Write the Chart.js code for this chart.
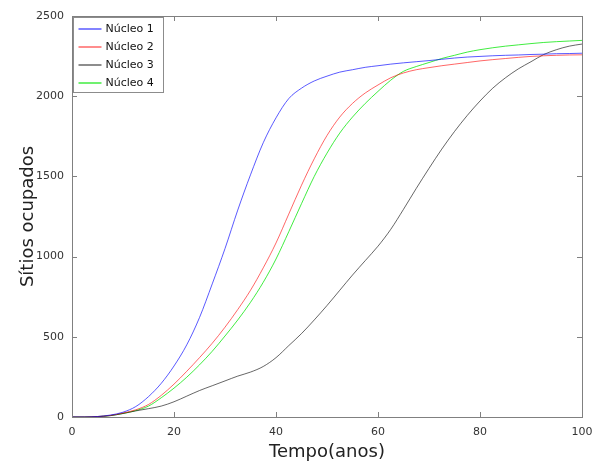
<!DOCTYPE html>
<html>
<head>
<meta charset="utf-8">
<script src="https://cdn.jsdelivr.net/npm/chart.js@4.4.1/dist/chart.umd.min.js"></script>
<style>
  html, body { margin: 0; padding: 0; background: #fff; }
  canvas { display: block; }
</style>
</head>
<body>
<canvas id="chart" width="593" height="463"></canvas>
<script>
// time axis (anos), read every 2.5 years
const anos = [0, 2.5, 5, 7.5, 10, 12.5, 15, 17.5, 20, 22.5, 25, 27.5, 30, 32.5, 35, 37.5, 40,
  42.5, 45, 47.5, 50, 52.5, 55, 57.5, 60, 62.5, 65, 67.5, 70, 72.5, 75, 77.5, 80, 82.5, 85,
  87.5, 90, 92.5, 95, 97.5, 100];

const nucleo1 = [0, 0, 3, 12, 30, 65, 127, 210, 318, 450, 620, 830, 1050, 1290, 1510, 1710, 1865,
  1985, 2050, 2095, 2125, 2150, 2165, 2180, 2190, 2200, 2208, 2215, 2222, 2230, 2238, 2244, 2248,
  2252, 2255, 2257, 2260, 2262, 2265, 2266, 2268];
const nucleo2 = [0, 0, 3, 10, 25, 45, 78, 135, 205, 285, 370, 460, 560, 670, 790, 930, 1085,
  1265, 1445, 1610, 1755, 1870, 1955, 2020, 2070, 2115, 2145, 2165, 2178, 2190, 2200, 2210, 2220,
  2228, 2235, 2242, 2248, 2252, 2255, 2257, 2258];
const nucleo3 = [0, 0, 2, 8, 22, 38, 52, 68, 95, 130, 165, 195, 225, 255, 280, 315, 370,
  445, 520, 605, 695, 790, 885, 975, 1065, 1170, 1295, 1425, 1550, 1670, 1780, 1880, 1970,
  2050, 2115, 2170, 2215, 2260, 2290, 2312, 2325];
const nucleo4 = [0, 0, 3, 9, 22, 40, 68, 120, 180, 248, 325, 410, 505, 605, 715, 840, 985,
  1155, 1330, 1500, 1645, 1770, 1870, 1955, 2030, 2100, 2155, 2185, 2210, 2235, 2255, 2275, 2290,
  2302, 2312, 2320, 2328, 2335, 2340, 2344, 2348];

const labels = ['Núcleo 1', 'Núcleo 2', 'Núcleo 3', 'Núcleo 4'];
const colors = ['rgba(0,0,255,0.65)', 'rgba(255,0,0,0.6)', 'rgba(0,0,0,0.6)', 'rgba(0,230,0,0.75)'];
const series = [nucleo1, nucleo2, nucleo3, nucleo4];

const xTicks = [0, 20, 40, 60, 80, 100];
const yTicks = [0, 500, 1000, 1500, 2000, 2500];

const FONT = 'DejaVu Sans';

// box + inward tick marks on all four sides
const frame = {
  id: 'frame',
  afterDatasetsDraw(chart) {
    const { ctx, chartArea: a, scales } = chart;
    ctx.save();
    ctx.strokeStyle = '#808080';
    ctx.lineWidth = 1;
    ctx.beginPath();
    xTicks.forEach(v => {
      const x = Math.round(scales.x.getPixelForValue(v)) + 0.5;
      ctx.moveTo(x, a.bottom); ctx.lineTo(x, a.bottom - 5);
      ctx.moveTo(x, a.top); ctx.lineTo(x, a.top + 5);
    });
    yTicks.forEach(v => {
      const y = Math.round(scales.y.getPixelForValue(v)) + 0.5;
      ctx.moveTo(a.left, y); ctx.lineTo(a.left + 5, y);
      ctx.moveTo(a.right, y); ctx.lineTo(a.right - 5, y);
    });
    ctx.stroke();
    ctx.strokeRect(Math.round(a.left) + 0.5, Math.round(a.top) + 0.5,
      Math.round(a.right - a.left), Math.round(a.bottom - a.top));
    ctx.restore();
  }
};

// legend drawn inside the plot, top left
const insideLegend = {
  id: 'insideLegend',
  afterDraw(chart) {
    const { ctx, chartArea: a } = chart;
    const x0 = a.left + 1.5, y0 = a.top + 1.5, w = 90, h = 75;
    ctx.save();
    ctx.fillStyle = '#fff';
    ctx.fillRect(x0, y0, w, h);
    ctx.strokeStyle = '#8c8c8c';
    ctx.lineWidth = 1;
    ctx.strokeRect(x0, y0, w, h);
    ctx.font = '11px "' + FONT + '"';
    ctx.textBaseline = 'middle';
    chart.data.datasets.forEach((ds, i) => {
      const y = y0 + 11.5 + i * 18;
      ctx.strokeStyle = ds.borderColor;
      ctx.lineWidth = 1.5;
      ctx.beginPath();
      ctx.moveTo(x0 + 5, y); ctx.lineTo(x0 + 28, y);
      ctx.stroke();
      ctx.fillStyle = '#111';
      ctx.fillText(ds.label, x0 + 32, y + 0.5);
    });
    ctx.restore();
  }
};

new Chart(document.getElementById('chart'), {
  type: 'line',
  data: {
    datasets: series.map((s, i) => ({
      label: labels[i],
      data: s.map((v, j) => ({ x: anos[j], y: v })),
      borderColor: colors[i],
      borderWidth: 1,
      pointRadius: 0,
      fill: false,
      cubicInterpolationMode: 'monotone'
    }))
  },
  options: {
    responsive: false,
    animation: false,
    devicePixelRatio: 1,
    layout: { padding: { top: 16, right: 11, left: 0, bottom: 0 } },
    plugins: { legend: { display: false }, tooltip: { enabled: false } },
    scales: {
      x: {
        type: 'linear',
        min: 0, max: 100,
        grid: { display: false, drawTicks: false },
        border: { display: false },
        afterBuildTicks: s => { s.ticks = xTicks.map(v => ({ value: v })); },
        afterFit: s => { s.height = 46; s.paddingLeft = 0; s.paddingRight = 0; },
        ticks: { color: '#333', padding: 9, maxRotation: 0, font: { family: FONT, size: 11 },
          callback: v => String(v) },
        title: { display: true, text: 'Tempo(anos)', color: '#222',
          font: { family: FONT, size: 18 }, padding: { top: 0, bottom: 0 } }
      },
      y: {
        min: 0, max: 2500,
        grid: { display: false, drawTicks: false },
        border: { display: false },
        afterBuildTicks: s => { s.ticks = yTicks.map(v => ({ value: v })); },
        afterFit: s => { s.width = 72; s.paddingTop = 0; s.paddingBottom = 0; },
        ticks: { color: '#333', padding: 8, font: { family: FONT, size: 11 },
          callback: v => String(v) },
        title: { display: true, text: 'Sítios ocupados', color: '#222',
          font: { family: FONT, size: 18 }, padding: { top: 18, bottom: 0 } }
      }
    }
  },
  plugins: [frame, insideLegend]
});
</script>
</body>
</html>
